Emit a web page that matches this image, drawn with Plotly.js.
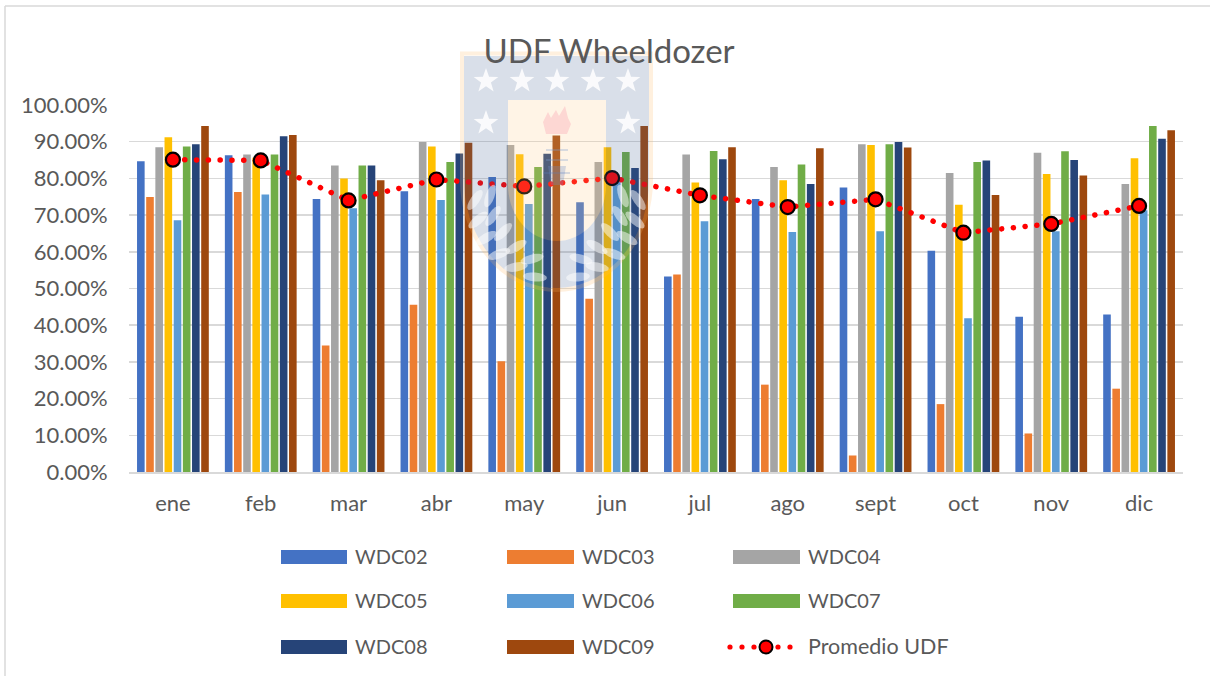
<!DOCTYPE html>
<html>
<head>
<meta charset="utf-8">
<script src="https://cdn.plot.ly/plotly-3.0.1.min.js"></script>
<style>html,body{margin:0;padding:0;background:#fff;overflow:hidden}#chart{width:1210px;height:676px}</style>
</head>
<body>
<div id="chart"></div>
<script>
const months = ['ene','feb','mar','abr','may','jun','jul','ago','sept','oct','nov','dic'];
const WDC02 = [84.7,86.3,74.4,76.5,80.4,73.5,53.3,74.4,77.5,60.3,42.3,42.9];
const WDC03 = [74.9,76.3,34.5,45.6,30.2,47.2,53.8,23.8,4.5,18.5,10.5,22.7];
const WDC04 = [88.5,86.5,83.5,89.9,89.1,84.5,86.5,83.1,89.3,81.5,87.0,78.5];
const WDC05 = [91.2,85.6,80.0,88.7,86.6,88.5,78.9,79.5,89.1,72.8,81.2,85.5];
const WDC06 = [68.6,75.6,71.9,74.1,73.0,79.0,68.3,65.4,65.6,41.9,65.6,71.3];
const WDC07 = [88.7,86.5,83.5,84.5,83.1,87.2,87.5,83.8,89.3,84.5,87.4,94.3];
const WDC08 = [89.3,91.5,83.5,86.8,86.7,82.8,85.2,78.5,89.9,84.9,85.0,90.8];
const WDC09 = [94.3,91.8,79.5,89.7,91.7,94.3,88.5,88.2,88.4,75.5,80.8,93.1];
const promedio = [85.1,84.9,74.0,79.7,77.8,80.1,75.4,72.2,74.3,65.2,67.6,72.5];
const barNames = ['WDC02','WDC03','WDC04','WDC05','WDC06','WDC07','WDC08','WDC09'];
const barValues = [WDC02,WDC03,WDC04,WDC05,WDC06,WDC07,WDC08,WDC09];
const barColors = ['#4472c4','#ed7d31','#a5a5a5','#ffc000','#5b9bd5','#70ad47','#264478','#9e480e'];
const lineName = 'Promedio UDF';

const L=129,R=1183,T=105,B=472;
const px=x=>(x-L)/(R-L), py=y=>(B-y)/(B-T);
const P=(pts,close=true)=>'M'+pts.map(p=>px(p[0]).toFixed(5)+','+py(p[1]).toFixed(5)).join('L')+(close?'Z':'');
const paper={xref:'paper',yref:'paper'};
const rectS=(x0,y0,x1,y1,fill,op=1,layer='above')=>({...paper,type:'rect',x0:px(x0),x1:px(x1),y0:py(y0),y1:py(y1),fillcolor:fill,opacity:op,line:{width:0},layer});
const circS=(cx,cy,r,fill,lw=0,lc='#000')=>({...paper,type:'circle',x0:px(cx-r),x1:px(cx+r),y0:py(cy-r),y1:py(cy+r),fillcolor:fill,line:{width:lw,color:lc}});
const pathS=(d,fill,op,lineC,lw)=>({...paper,type:'path',path:d,fillcolor:fill,opacity:op,line:{width:lw||0,color:lineC||'rgba(0,0,0,0)'},layer:'above',fillrule:'evenodd'});

function arcPts(cx,cy,rx,ry,a0,a1,n){const o=[];for(let i=0;i<=n;i++){const a=(a0+(a1-a0)*i/n)*Math.PI/180;o.push([cx+rx*Math.cos(a),cy+ry*Math.sin(a)]);}return o;}
function shield(x0,x1,yTop,yStraight,yBot){const c=(x0+x1)/2,rx=(x1-x0)/2;return [[x0,yTop],[x1,yTop],...arcPts(c,yStraight,rx,yBot-yStraight,0,180,36)];}
function star(cx,cy,r){const o=[];for(let i=0;i<10;i++){const rr=i%2?r*0.4:r,a=(-90+36*i)*Math.PI/180;o.push([cx+rr*Math.cos(a),cy+rr*Math.sin(a)]);}return o;}
function leaf(cx,cy,len,w,deg){const a=deg*Math.PI/180,o=[];for(let i=0;i<=16;i++){const t=i/16*2*Math.PI,u=len*Math.cos(t),v=w*Math.sin(t);o.push([cx+u*Math.cos(a)-v*Math.sin(a),cy+u*Math.sin(a)+v*Math.cos(a)]);}return o;}

const mark=[];
// frame
mark.push({...paper,type:'line',x0:px(5),x1:px(5),y0:py(6),y1:py(676),line:{color:'#d9d9d9',width:1.5}});
mark.push({...paper,type:'line',x0:px(5),x1:px(1210),y0:py(6),y1:py(6),line:{color:'#d9d9d9',width:1.5}});
// watermark crest
const outer=shield(464,649,56,180,288), panel=shield(508,606,100,185,241);
mark.push(pathS(P(shield(462,651,53.5,180,290)),'rgba(0,0,0,0)',0.2,'#ffb860',4));
mark.push(pathS(P(outer)+P(panel),'#41608f',0.2));
mark.push(pathS(P(panel),'#ffc880',0.2));
for(const x of [486,522,557,593,628]) mark.push(pathS(P(star(x,81,13)),'#ffffff',0.85));
for(const x of [486,628]) mark.push(pathS(P(star(x,123,13)),'#ffffff',0.85));
mark.push(pathS(P([[546,134],[543,122],[548,112],[551,118],[556,110],[559,116],[565,106],[568,118],[571,124],[567,134]]),'#f8a0b0',0.35));
for(const y of [150,160]) mark.push(rectS(546,y-1,568,y+1,'#7f9fd0',0.3));
mark.push(pathS(P([[548,166],[566,166],[563,185],[551,185]]),'#6f90c8',0.3));
mark.push(rectS(543,172,570,174,'#5b7fc0',0.25));
// laurel leaves, mirrored about the crest axis
const leaves=[[475,200,-55],[490,196,-70],[478,220,-40],[493,216,-55],[486,238,-30],[503,232,-45],[499,254,-20],[516,247,-30],[516,267,-10],[532,259,-15],[535,277,5]];
for(const [x,y,d] of leaves){
  mark.push(pathS(P(leaf(x,y,12,4.5,d)),'#ffffff',0.5));
  mark.push(pathS(P(leaf(1113-x,y,12,4.5,180-d)),'#ffffff',0.5));
}
// custom legend
const lx=[[281,347,353],[507,574,580],[733,800,806]], ly=[557,601,647];
const ann=[];
barNames.forEach((n,i)=>{const c=i%3,r=Math.floor(i/3);
 mark.push(rectS(lx[c][0],ly[r]-7,lx[c][1],ly[r]+7,barColors[i]));
 ann.push({...paper,x:px(lx[c][2]),y:py(ly[r]-1),text:n,showarrow:false,xanchor:'left',yanchor:'middle',font:{family:'Lato, sans-serif',size:20,color:'#595959'}});
});
for(const x of [730,742,754,778,790]) mark.push(circS(x,ly[2],2.6,'#ff0000'));
mark.push(circS(766,ly[2],6.5,'#ff0000',2,'#000'));
ann.push({...paper,x:px(806),y:py(ly[2]-1),text:lineName,showarrow:false,xanchor:'left',yanchor:'middle',font:{family:'Lato, sans-serif',size:21.5,color:'#595959'}});

const traces = barNames.map((n,i)=>({type:'bar',name:n,x:months,y:barValues[i],marker:{color:barColors[i]}}));
traces.push({type:'scatter',mode:'lines+markers',name:lineName,x:months,y:promedio,
  line:{color:'#ff0000',width:5.5,dash:'5px,7px'},marker:{size:14,color:'#ff0000',line:{color:'#000',width:2.2}}});

const layout={width:1210,height:676,margin:{l:L,r:1210-R,t:T,b:676-B,pad:0},paper_bgcolor:'#fff',plot_bgcolor:'#fff',
 showlegend:false,barmode:'group',bargap:0.165,bargroupgap:0.17,
 title:{text:'UDF Wheeldozer',x:609/1210,xref:'container',xanchor:'center',y:1-51/676,yref:'container',yanchor:'middle',font:{family:'Lato, sans-serif',size:33,color:'#595959'}},
 font:{family:'Lato, sans-serif',color:'#595959',size:22},
 xaxis:{type:'category',range:[-0.5,11.5],autorange:false,automargin:false,tickfont:{size:22,color:'#595959'},showgrid:false,ticks:'outside',ticklen:11,tickcolor:'rgba(0,0,0,0)',showline:true,linecolor:'#d9d9d9',linewidth:1.5,zeroline:false},
 yaxis:{automargin:false,range:[0,100],dtick:10,tick0:0,ticksuffix:'%',tickformat:'.2f',tickfont:{size:22,color:'#595959'},gridcolor:'#d9d9d9',gridwidth:1.5,zeroline:false,ticks:'outside',ticklen:16,tickcolor:'rgba(0,0,0,0)'},
 shapes:mark,annotations:ann};

Plotly.newPlot('chart',traces,layout,{displayModeBar:false,staticPlot:true}).then(gd=>{
  gd.querySelectorAll('.scatterlayer .js-line').forEach(p=>{p.style.strokeLinecap='round';p.style.strokeDasharray='0.1px,11.7px';});
});
</script>
</body>
</html>
